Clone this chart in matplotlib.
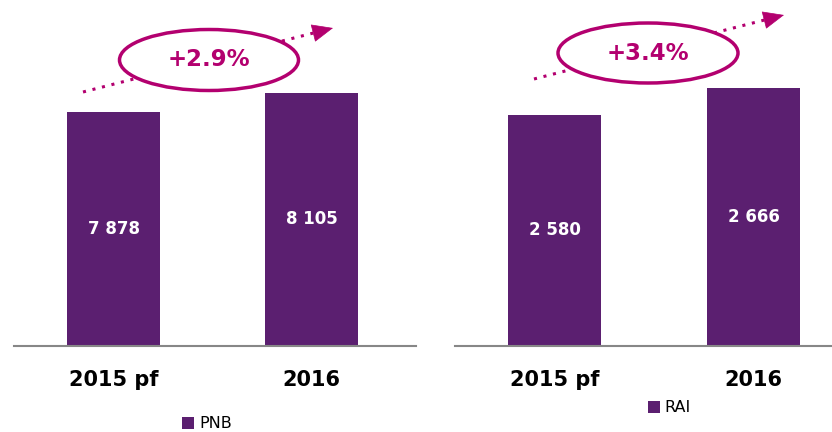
import matplotlib.pyplot as plt
from matplotlib.patches import Ellipse, FancyArrowPatch
from matplotlib.lines import Line2D

# data
years = ["2015 pf", "2016"]
pnb = [7878, 8105]
rai = [2580, 2666]
pnb_growth = "+2.9%"
rai_growth = "+3.4%"
value_labels_pnb = ["7 878", "8 105"]
value_labels_rai = ["2 580", "2 666"]

purple = "#5b1f70"
magenta = "#b3006f"
W, H = 832, 432

fig = plt.figure(figsize=(W / 100, H / 100), dpi=100)


def px_box(x0, x1, ytop, ybot):
    return [x0 / W, (H - ybot) / H, (x1 - x0) / W, (ybot - ytop) / H]


def fxy(x, y):
    return (x / W, 1 - y / H)


def panel(rect, xlim, vals, labels, name, ylim, leg_xy, growth, ell, arrow):
    ax = fig.add_axes(rect)
    x = range(len(vals))
    ax.bar(x, [v - ylim[0] for v in vals], bottom=ylim[0], width=0.467,
           color=purple, label=name, zorder=2)
    for i, v in enumerate(vals):
        ax.text(i, (ylim[0] + v) / 2, labels[i], ha="center", va="center",
                color="white", fontsize=12, fontweight="bold", zorder=3)
    ax.set_xlim(*xlim)
    ax.set_ylim(*ylim)
    ax.set_xticks(list(x))
    ax.set_xticklabels(years, fontsize=15, fontweight="bold")
    ax.tick_params(axis="x", length=0, pad=17)
    ax.set_yticks([])
    for s in ["top", "right", "left"]:
        ax.spines[s].set_visible(False)
    ax.spines["bottom"].set_color("#878787")
    ax.spines["bottom"].set_linewidth(1.5)
    ax.legend(loc="center", bbox_to_anchor=leg_xy, frameon=False, fontsize=11.5,
              handlelength=0.75, handleheight=0.75, handletextpad=0.3)

    # dotted growth line with solid head, figure pixel coords
    (x0, y0), (x1, y1) = arrow
    dx, dy = x1 - x0, y1 - y0
    n = (dx ** 2 + dy ** 2) ** 0.5
    ux, uy = dx / n, dy / n
    hx, hy = x1 - ux * 13, y1 - uy * 13
    p0, p1 = fxy(x0, y0), fxy(hx, hy)
    fig.add_artist(Line2D([p0[0], p1[0]], [p0[1], p1[1]], transform=fig.transFigure,
                          linestyle=(0, (1, 2.2)), linewidth=2.2, color=magenta,
                          zorder=5))
    fig.add_artist(FancyArrowPatch(fxy(hx - ux * 2, hy - uy * 2), fxy(x1, y1),
                                   transform=fig.transFigure,
                                   arrowstyle="-|>,head_length=14,head_width=6",
                                   linewidth=0.5, color=magenta, mutation_scale=1,
                                   shrinkA=0, shrinkB=0, zorder=5))
    cx, cy, ew, eh = ell
    fig.add_artist(Ellipse(fxy(cx, cy), ew / W, eh / H, transform=fig.transFigure,
                           facecolor="white", edgecolor=magenta, linewidth=2.5,
                           zorder=6))
    fig.text(*fxy(cx, cy), growth, ha="center", va="center", color=magenta,
             fontsize=16.5, fontweight="bold", zorder=7)
    return ax


panel(px_box(14, 416, 0, 346), (-0.503, 1.528), pnb, value_labels_pnb, "PNB",
      (5082, 9216), (0.48, -0.225), pnb_growth, (209, 60, 179, 61),
      ((83, 92), (333, 28)))
panel(px_box(455, 832, 0, 346), (-0.5, 1.394), rai, value_labels_rai, "RAI",
      (1844, 2946), (0.568, -0.179), rai_growth, (648, 53, 180, 60),
      ((534, 79), (784, 15)))

plt.savefig("out.png", dpi=100)
